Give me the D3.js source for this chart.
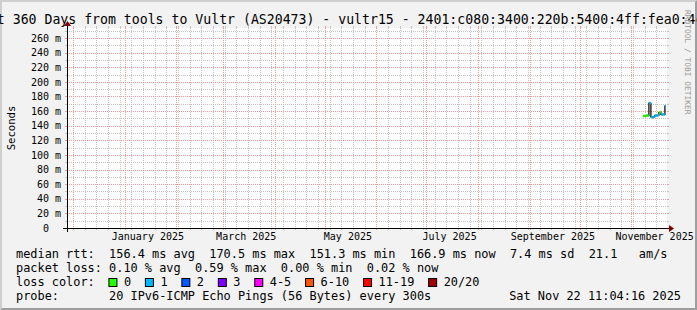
<!DOCTYPE html>
<html><head><meta charset="utf-8">
<script src="https://cdn.jsdelivr.net/npm/d3@7"></script>
<style>html,body{margin:0;padding:0;background:#f2f2f2;} svg{display:block;}</style>
</head><body><svg id="c" width="697" height="310"></svg>
<script>
// ---------------- data ----------------
const titleText = "Last 360 Days from tools to Vultr (AS20473) - vultr15 - 2401:c080:3400:220b:5400:4ff:fea0:4c1b";
const endTimeText = "2025-11-22 11:04:16";
const rangeDays = 360;
const yMax = 273.68;
const yTickValues = [0, 20, 40, 60, 80, 100, 120, 140, 160, 180, 200, 220, 240, 260];
const xLabelDates = ["2025-01-15", "2025-03-15", "2025-05-15", "2025-07-15", "2025-09-15", "2025-11-15"];
const xLabelTexts = ["January 2025", "March 2025", "May 2025", "July 2025", "September 2025", "November 2025"];
const sampleTimes = [
  "2025-11-08 00:00","2025-11-08 14:24","2025-11-09 04:48","2025-11-09 19:12","2025-11-10 09:36",
  "2025-11-11 00:00","2025-11-11 14:24","2025-11-12 04:48","2025-11-12 19:12","2025-11-13 09:36",
  "2025-11-14 00:00","2025-11-14 14:24","2025-11-15 04:48","2025-11-15 19:12","2025-11-16 09:36",
  "2025-11-17 00:00","2025-11-17 14:24","2025-11-18 04:48","2025-11-18 19:12","2025-11-19 09:36",
  "2025-11-20 00:00","2025-11-20 14:24","2025-11-21 04:48"];
const medianRtt = [153.2,153.4,153.0,153.6,154.0,153.8,171.0,170.5,152.0,151.3,151.8,152.5,
                   154.0,154.2,153.8,154.5,158.0,158.3,155.5,155.2,155.6,155.4,166.9];
const lossCount = [0,0,0,0,0,0,1,1,1,1,1,1,1,1,1,1,0,0,1,1,1,1,1];
const lossLegend = ["0", "1", "2", "3", "4-5", "6-10", "11-19", "20/20"];
const lossColors = ["#26ff00", "#00b8ff", "#0059ff", "#7e00ff", "#ff00ff", "#ff5500", "#ff0000", "#a10000"];
const medianStats = ["156.4 ms avg", "170.5 ms max", "151.3 ms min", "166.9 ms now", "7.4 ms sd", "21.1   am/s"];
const lossStats = ["0.10 % avg", "0.59 % max", "0.00 % min", "0.02 % now"];
const probeText = "20 IPv6-ICMP Echo Pings (56 Bytes) every 300s";
const stampText = "Sat Nov 22 11:04:16 2025";

// ---------------- drawing ----------------
const W = 697, H = 310;
const X0 = 67, X1 = 667, Y0 = 228, Y1 = 28;
const MONO = "'DejaVu Sans Mono', monospace";
const svg = d3.select("#c");
const parse = d3.timeParse("%Y-%m-%d %H:%M");
const parseS = d3.timeParse("%Y-%m-%d %H:%M:%S");
const parseD = d3.timeParse("%Y-%m-%d");
const end = parseS(endTimeText);
const start = new Date(end.getTime() - rangeDays * 86400000);

const x = d3.scaleTime().domain([start, end]).range([X0, X1]);
const y = d3.scaleLinear().domain([0, yMax]).range([Y0, Y1]);

// background + bevel
svg.append("rect").attr("width", W).attr("height", H).attr("fill", "#f2f2f2");
svg.append("polygon").attr("points", `0,0 ${W},0 ${W-2},2 2,2 2,${H-2} 0,${H}`).attr("fill", "#cfcfcf");
svg.append("polygon").attr("points", `${W},0 ${W},${H} 0,${H} 2,${H-2} ${W-2},${H-2} ${W-2},2`).attr("fill", "#9e9e9e");

// canvas
svg.append("rect").attr("x", X0).attr("y", Y1).attr("width", X1 - X0).attr("height", Y0 - Y1).attr("fill", "#ffffff");

const grid = svg.append("g").attr("shape-rendering", "crispEdges");
const minorCol = "#c4c4c4", majorCol = "#f09a9a";

function hLine(v, col) {
  const yy = Math.round(y(v)) + 0.5;
  grid.append("line").attr("x1", X0 - 2).attr("x2", X0).attr("y1", yy).attr("y2", yy).attr("stroke", col);
  grid.append("line").attr("x1", X1).attr("x2", X1 + 2).attr("y1", yy).attr("y2", yy).attr("stroke", col);
  grid.append("line").attr("x1", X0).attr("x2", X1).attr("y1", yy).attr("y2", yy)
    .attr("stroke", col).attr("stroke-dasharray", "1,1");
}
function vLine(t, col) {
  const xx = Math.round(x(t)) + 0.5;
  grid.append("line").attr("x1", xx).attr("x2", xx).attr("y1", Y0).attr("y2", Y0 + 2).attr("stroke", col);
  grid.append("line").attr("x1", xx).attr("x2", xx).attr("y1", Y1 - 2).attr("y2", Y1).attr("stroke", col);
  grid.append("line").attr("x1", xx).attr("x2", xx).attr("y1", Y1).attr("y2", Y0)
    .attr("stroke", col).attr("stroke-dasharray", "1,1");
}
// minor horizontal (every 10)
const minorStep = (yTickValues[1] - yTickValues[0]) / 2;
d3.range(minorStep, yMax, minorStep).forEach(v => { if (!yTickValues.includes(v)) hLine(v, minorCol); });
// minor vertical (weekly)
d3.timeSunday.range(start, end).forEach(t => vLine(t, minorCol));
// major
yTickValues.filter(v => v > 0).forEach(v => hLine(v, majorCol));
d3.timeMonth.range(start, end).forEach(t => vLine(t, majorCol));

// axes
const ax = svg.append("g").attr("shape-rendering", "crispEdges");
ax.append("line").attr("x1", X0 - 4).attr("x2", X1 + 4).attr("y1", Y0 + 0.5).attr("y2", Y0 + 0.5).attr("stroke", "#000");
ax.append("line").attr("x1", X0 + 0.5).attr("x2", X0 + 0.5).attr("y1", Y0 + 4).attr("y2", Y1 - 4).attr("stroke", "#000");
svg.append("polygon").attr("points", `${X1+2},${Y0-3} ${X1+2},${Y0+4} ${X1+7},${Y0+0.5}`).attr("fill", "#800000");
svg.append("polygon").attr("points", `${X0-3},${Y1-2} ${X0+4},${Y1-2} ${X0+0.5},${Y1-7}`).attr("fill", "#800000");

// y tick labels
svg.append("g").selectAll("text").data(yTickValues).join("text")
  .attr("x", 61).attr("y", d => y(d) + 3.7)
  .attr("text-anchor", "end").style("white-space", "pre")
  .attr("font-family", MONO).attr("font-size", "10px").attr("fill", "#000")
  .text(d => d === 0 ? "0  " : d + " m");

// x labels
svg.append("g").selectAll("text").data(xLabelDates).join("text")
  .attr("x", d => x(parseD(d))).attr("y", 240)
  .attr("text-anchor", "middle")
  .attr("font-family", MONO).attr("font-size", "10px").attr("fill", "#000")
  .text((d, i) => xLabelTexts[i]);

// y axis title
svg.append("text").attr("transform", "translate(14.5,128) rotate(-90)")
  .attr("text-anchor", "middle").attr("font-family", MONO).attr("font-size", "10.6px").attr("fill", "#000")
  .text("Seconds");

// data
const pts = sampleTimes.map((s, i) => ({ t: parse(s), v: medianRtt[i], l: lossCount[i] }));
const step = 14.4 * 3600000;
const lineGen = d3.line().x(d => x(d.t)).y(d => y(d.v)).curve(d3.curveStepAfter);
svg.append("path").datum(pts.concat([{ t: new Date(pts[pts.length-1].t.getTime() + step), v: pts[pts.length-1].v }]))
  .attr("d", lineGen).attr("fill", "none").attr("stroke", "#111").attr("stroke-width", 1.3);
function lossIdx(l) {
  if (l <= 3) return l;
  if (l <= 5) return 4;
  if (l <= 10) return 5;
  if (l <= 19) return 6;
  return 7;
}
svg.append("g").selectAll("line").data(pts).join("line")
  .attr("x1", d => x(d.t)).attr("x2", d => x(new Date(d.t.getTime() + step)))
  .attr("y1", d => y(d.v)).attr("y2", d => y(d.v))
  .attr("stroke", d => lossColors[lossIdx(d.l)]).attr("stroke-width", 2.4);

// title
svg.append("text").attr("x", -27).attr("y", 24).style("white-space", "pre")
  .attr("font-family", MONO).attr("font-size", "13.2px").attr("fill", "#000").text(titleText);

// watermark
svg.append("text").attr("transform", "translate(684.5,10) rotate(90)")
  .attr("font-family", MONO).attr("font-size", "7.9px").attr("fill", "#999999")
  .text("RRDTOOL / TOBI OETIKER");

// legend
const LF = 11.9, CW = LF * 0.602, LX = 16;
function legendText(str, xx, yy, anchor) {
  svg.append("text").attr("x", xx).attr("y", yy).style("white-space", "pre")
    .attr("text-anchor", anchor || "start")
    .attr("font-family", MONO).attr("font-size", LF + "px").attr("fill", "#000").text(str);
}
legendText("median rtt:  " + medianStats.join("  "), LX, 258);
legendText("packet loss: " + lossStats.join("  "), LX, 272);
legendText("loss color:", LX, 286);
let bx = LX + 13 * CW - 0.7;
lossLegend.forEach((lab, i) => {
  svg.append("rect").attr("x", bx + 0.5).attr("y", 278.5).attr("width", 8).attr("height", 8)
    .attr("fill", lossColors[i]).attr("stroke", "#000").attr("stroke-width", 1);
  const tx = bx + 15.5;
  legendText(lab, tx, 286);
  bx = tx + lab.length * CW + 13.8;
});
legendText("probe:       " + probeText, LX, 299.5);
legendText(stampText, 681, 299.5, "end");
</script>
</body></html>
